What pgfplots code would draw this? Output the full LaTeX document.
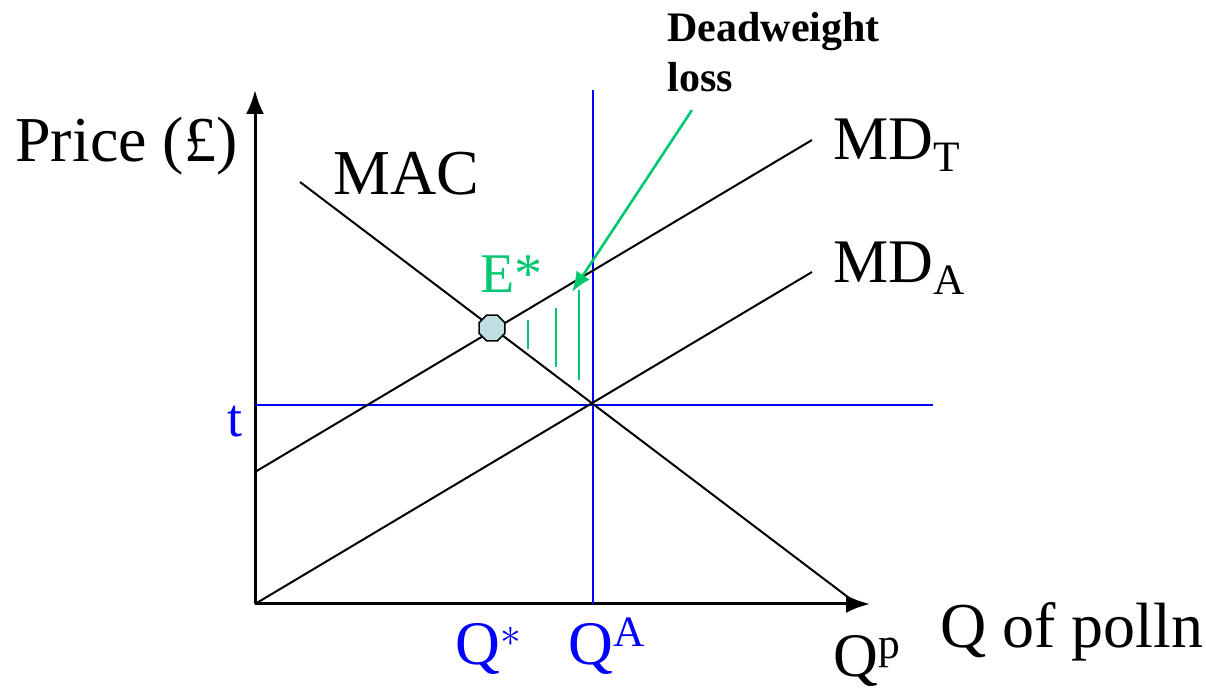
\documentclass[border=0pt]{standalone}
\usepackage{pgfplots}
\pgfplotsset{compat=1.18}
\usepackage{fontspec}
\setmainfont{Liberation Serif}
\usetikzlibrary{arrows.meta}
\definecolor{mygreen}{RGB}{0,200,110}
\definecolor{myblue}{RGB}{0,0,255}
\definecolor{octfill}{RGB}{190,222,226}
\pgfdeclareplotmark{octagon}{%
  \pgfpathmoveto{\pgfpointpolar{22.5}{\pgfplotmarksize}}%
  \pgfpathlineto{\pgfpointpolar{67.5}{\pgfplotmarksize}}%
  \pgfpathlineto{\pgfpointpolar{112.5}{\pgfplotmarksize}}%
  \pgfpathlineto{\pgfpointpolar{157.5}{\pgfplotmarksize}}%
  \pgfpathlineto{\pgfpointpolar{202.5}{\pgfplotmarksize}}%
  \pgfpathlineto{\pgfpointpolar{247.5}{\pgfplotmarksize}}%
  \pgfpathlineto{\pgfpointpolar{292.5}{\pgfplotmarksize}}%
  \pgfpathlineto{\pgfpointpolar{337.5}{\pgfplotmarksize}}%
  \pgfpathclose\pgfusepathqfillstroke}
\begin{document}
\begin{tikzpicture}
\begin{axis}[
  hide axis, scale only axis, clip=false,
  width=603pt, height=345.5pt,
  xmin=-255, xmax=951, ymin=-87, ymax=604,
]
% frame (invisible) to fix bounding box
\addplot[draw=none, forget plot] coordinates {(-255,-87) (951,604)};
% axes
\addplot[black, line width=1.5pt, -{Latex[length=12pt,width=9pt]}] coordinates {(0,0) (0,514)};
\addplot[black, line width=1.5pt, -{Latex[length=12pt,width=9pt]}] coordinates {(0,0) (615,0)};
% blue lines
\addplot[myblue, line width=1pt] coordinates {(0,199) (678,199)};
\addplot[myblue, line width=1pt] coordinates {(338,0) (338,514)};
% MAC
\addplot[black, line width=1pt] coordinates {(45,422) (602,0)};
% MD_T
\addplot[black, line width=1pt] coordinates {(0,132) (557,464)};
% MD_A
\addplot[black, line width=1pt] coordinates {(0,0) (557,332)};
% hatch
\addplot[mygreen, line width=1pt] coordinates {(273,284) (273,255)};
\addplot[mygreen, line width=1pt] coordinates {(301,296) (301,237)};
\addplot[mygreen, line width=1pt] coordinates {(324,314) (324,224)};
% arrow
\addplot[mygreen, line width=1.3pt, -{Latex[length=10pt,width=8pt]}] coordinates {(437,494) (317,312)};
% E* marker
\addplot[only marks, mark=octagon, mark size=7pt, mark options={fill=octfill, draw=black, line width=0.8pt}] coordinates {(237,276)};
% labels
\node[anchor=base west, inner sep=0, font=\fontsize{32}{33}\selectfont] at (axis cs:-240,442) {Price (£)};
\node[anchor=base west, inner sep=0, font=\fontsize{32}{33}\selectfont] at (axis cs:78,409) {MAC};
\node[anchor=base west, inner sep=0, font=\fontsize{31}{32}\selectfont] at (axis cs:578,444) {MD$_{\mathrm{T}}$};
\node[anchor=base west, inner sep=0, font=\fontsize{31}{32}\selectfont] at (axis cs:578,321) {MD$_{\mathrm{A}}$};
\node[anchor=base west, inner sep=0, text=mygreen, font=\fontsize{28}{30}\selectfont] at (axis cs:225,311) {E*};
\node[anchor=base west, inner sep=0, text=myblue, font=\fontsize{27}{30}\selectfont] at (axis cs:-28,167) {t};
\node[anchor=base west, inner sep=0, text=myblue, font=\fontsize{31}{32}\selectfont] at (axis cs:200,-61) {Q$^{*}$};
\node[anchor=base west, inner sep=0, text=myblue, font=\fontsize{31}{32}\selectfont] at (axis cs:313,-61) {Q\textsuperscript{A}};
\node[anchor=base west, inner sep=0, font=\fontsize{31}{32}\selectfont] at (axis cs:578,-73) {Q\textsuperscript{p}};
\node[anchor=base west, inner sep=0, font=\fontsize{32}{33}\selectfont] at (axis cs:685,-44) {Q of polln};
\node[anchor=base west, inner sep=0, font=\bfseries\fontsize{21}{22}\selectfont] at (axis cs:412,562) {Deadweight};
\node[anchor=base west, inner sep=0, font=\bfseries\fontsize{21}{22}\selectfont] at (axis cs:412,512) {loss};
\end{axis}
\end{tikzpicture}
\end{document}
